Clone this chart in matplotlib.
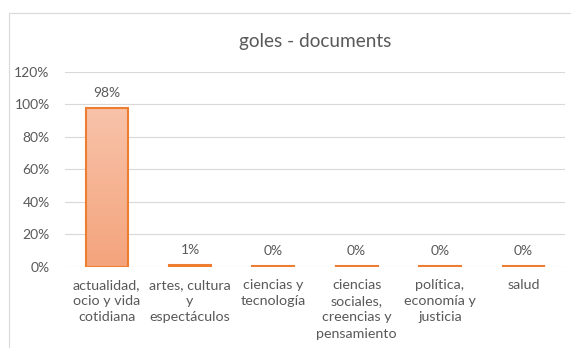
import matplotlib
matplotlib.use("Agg")
import matplotlib.pyplot as plt
import numpy as np
from matplotlib.colors import LinearSegmentedColormap
from matplotlib.patches import Rectangle

categories = ["actualidad,\nocio y vida\ncotidiana", "artes, cultura\ny\nespectáculos",
              "ciencias y\ntecnología", "ciencias\nsociales,\ncreencias y\npensamiento",
              "política,\neconomía y\njusticia", "salud"]
values = [0.98, 0.01, 0.003, 0.003, 0.003, 0.003]
yticks = [0, 0.2, 0.4, 0.6, 0.8, 1.0, 1.2]

plt.rcParams['font.family'] = ['Lato', 'DejaVu Sans']
gray = "#595959"

fig = plt.figure(figsize=(5.71, 3.48), dpi=100)
fig.patches.append(Rectangle((9/571, -0.01), 1.0, 1 - 12.5/348 + 0.01, transform=fig.transFigure,
                             fill=False, edgecolor="#D9D9D9", linewidth=0.8))
L, R, T, B = 65, 565, 72, 266.5
ax = fig.add_axes([L/571, 1 - B/348, (R - L)/571, (B - T)/348])
x = np.arange(len(categories))
cmap = LinearSegmentedColormap.from_list("g", ["#F4A47C", "#F8C3AA"])
bars = ax.bar(x, values, width=0.5, facecolor="none", edgecolor="#ED7D31", linewidth=1.5, zorder=3)
grad = np.linspace(0, 1, 256).reshape(-1, 1)
for b in bars:
    im = ax.imshow(grad, cmap=cmap, origin="lower", aspect="auto",
                   extent=[b.get_x(), b.get_x() + b.get_width(), 0, b.get_height()], zorder=2)
    im.set_clip_path(b)
for xi, v in zip(x, values):
    ax.text(xi, v + 0.055, f"{v*100:.0f}%", ha="center", va="bottom", color=gray, fontsize=10)

ax.set_xlim(-0.5, len(categories) - 0.5)
ax.set_ylim(0, 1.2)
ax.set_yticks(yticks)
ax.set_yticklabels([f"{int(round(t*100))}%" for t in yticks], color=gray, fontsize=10)
ax.set_xticks(x)
ax.set_xticklabels(categories, color=gray, fontsize=10.3, linespacing=1.42, va="top")
ax.tick_params(length=0)
ax.tick_params(axis="x", pad=9)
ax.tick_params(axis="y", pad=11)
for s in ax.spines.values():
    s.set_visible(False)
ax.grid(axis="y", color="#D9D9D9", linewidth=0.8, zorder=0)
ax.set_axisbelow(True)
fig.text(0.5 * (L + R) / 571, 1 - 42/348, "goles - documents", ha="center", va="center",
         color=gray, fontsize=13.7)
fig.savefig("out.png", dpi=100)
